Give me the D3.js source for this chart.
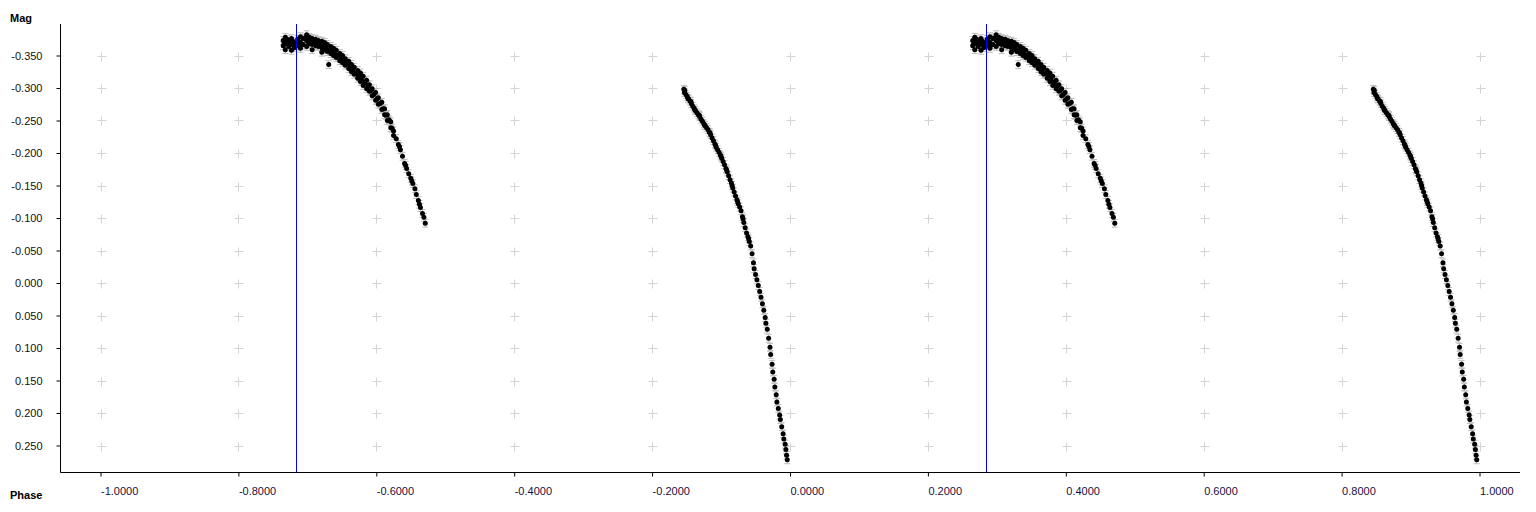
<!DOCTYPE html>
<html><head><meta charset="utf-8">
<script src="https://cdn.jsdelivr.net/npm/d3@7"></script>
<style>
html,body{margin:0;padding:0;background:#fff;}
svg{display:block;}
text{font-family:"Liberation Sans",Arial,sans-serif;}
</style></head>
<body>
<script>
// ---- data ----
const xTicks = [-1.0, -0.8, -0.6, -0.4, -0.2, 0.0, 0.2, 0.4, 0.6, 0.8, 1.0];
const yTicks = [-0.35, -0.30, -0.25, -0.20, -0.15, -0.10, -0.05, 0.00, 0.05, 0.10, 0.15, 0.20, 0.25];
const markerPhases = [-0.716, 0.284];
const errMag = 0.006;
// observed points (phase, magnitude) -- first branch (max light)
const branchA = [
[0.265,-0.373],[0.265,-0.365],[0.268,-0.378],[0.268,-0.368],[0.268,-0.359],[0.273,-0.372],[0.273,-0.364],
[0.277,-0.376],[0.277,-0.367],[0.277,-0.358],[0.281,-0.370],[0.281,-0.362],[0.286,-0.375],[0.286,-0.365],
[0.290,-0.379],[0.290,-0.370],[0.290,-0.361],[0.294,-0.376],[0.294,-0.367],[0.299,-0.382],[0.299,-0.373],
[0.299,-0.364],[0.303,-0.378],[0.303,-0.368],[0.307,-0.376],[0.307,-0.367],[0.307,-0.359],[0.312,-0.375],
[0.312,-0.365],[0.316,-0.373],[0.316,-0.364],[0.321,-0.372],[0.321,-0.362],[0.321,-0.355],[0.325,-0.370],
[0.325,-0.359],[0.329,-0.367],[0.329,-0.356],[0.331,-0.336],[0.334,-0.364],[0.334,-0.353],[0.338,-0.361],
[0.338,-0.350],[0.342,-0.358],[0.342,-0.347],[0.347,-0.353],[0.347,-0.342],[0.351,-0.350],[0.351,-0.339],
[0.355,-0.345],[0.355,-0.335],[0.360,-0.341],[0.360,-0.330],[0.364,-0.336],[0.364,-0.325],[0.368,-0.332],
[0.368,-0.321],[0.373,-0.327],[0.373,-0.315],[0.377,-0.323],[0.377,-0.310],[0.381,-0.318],[0.381,-0.304],
[0.386,-0.312],[0.386,-0.299],[0.390,-0.305],[0.390,-0.295],[0.394,-0.299],[0.394,-0.288],[0.399,-0.293],
[0.399,-0.281],[0.403,-0.285],[0.403,-0.275],[0.408,-0.278],[0.408,-0.267],[0.412,-0.268],[0.412,-0.259],
[0.416,-0.259],[0.416,-0.250],[0.421,-0.248],[0.421,-0.239],[0.425,-0.234],[0.425,-0.227],[0.429,-0.222],
[0.432,-0.213],[0.435,-0.205],[0.438,-0.195],[0.441,-0.184],[0.444,-0.176],[0.447,-0.168],[0.450,-0.161],
[0.453,-0.153],[0.456,-0.145],[0.458,-0.136],[0.461,-0.127],[0.464,-0.116],[0.467,-0.107],[0.469,-0.101],
[0.471,-0.092],
[0.2665,-0.369],[0.2705,-0.375],[0.2745,-0.368],[0.279,-0.372],[0.2835,-0.366],[0.288,-0.371],[0.292,-0.366],
[0.2965,-0.377],[0.301,-0.371],[0.305,-0.373],[0.3095,-0.370],[0.314,-0.368],[0.3185,-0.367],[0.323,-0.364],
[0.327,-0.362],[0.3315,-0.359],[0.336,-0.356],[0.340,-0.352],[0.3445,-0.350],[0.349,-0.346],[0.353,-0.343],
[0.3575,-0.338],[0.362,-0.333],[0.366,-0.327],[0.3705,-0.322],[0.375,-0.318],[0.379,-0.312],[0.3835,-0.308],
[0.388,-0.303],[0.392,-0.296],[0.3965,-0.290],[0.401,-0.283],[0.4055,-0.276],[0.410,-0.268],[0.414,-0.258],
[0.4185,-0.251],[0.423,-0.238],[0.4335,-0.210],[0.4425,-0.181],[0.4515,-0.157],[0.4625,-0.121]
];
// second branch (descending to minimum)
const branchB = [
[0.846,-0.298],[0.847,-0.293],[0.849,-0.290],[0.851,-0.287],[0.853,-0.283],[0.855,-0.280],[0.857,-0.276],
[0.859,-0.272],[0.861,-0.269],[0.863,-0.265],[0.865,-0.262],[0.867,-0.259],[0.869,-0.256],[0.871,-0.252],
[0.873,-0.249],[0.875,-0.245],[0.877,-0.242],[0.879,-0.239],[0.881,-0.236],[0.883,-0.232],[0.885,-0.228],
[0.887,-0.223],[0.889,-0.219],[0.891,-0.214],[0.893,-0.209],[0.895,-0.205],[0.897,-0.201],[0.899,-0.197],
[0.901,-0.192],[0.903,-0.187],[0.905,-0.182],[0.907,-0.176],[0.909,-0.171],[0.911,-0.165],[0.913,-0.159],
[0.915,-0.154],[0.917,-0.146],[0.919,-0.140],[0.921,-0.134],[0.923,-0.128],[0.925,-0.122],[0.927,-0.117],
[0.929,-0.111],[0.931,-0.102],[0.933,-0.093],[0.935,-0.085],[0.937,-0.077],[0.939,-0.071],[0.941,-0.064],
[0.943,-0.057],[0.945,-0.045],[0.947,-0.031],[0.948,-0.022],[0.950,-0.013],[0.952,-0.005],[0.954,0.004],
[0.956,0.013],[0.958,0.022],[0.960,0.032],[0.962,0.042],[0.964,0.053],[0.965,0.062],[0.967,0.071],
[0.969,0.085],[0.971,0.099],[0.972,0.110],[0.974,0.125],[0.975,0.137],[0.977,0.148],[0.978,0.160],
[0.980,0.172],[0.981,0.183],[0.983,0.193],[0.985,0.203],[0.986,0.210],[0.988,0.221],[0.990,0.232],
[0.991,0.240],[0.993,0.248],[0.994,0.256],[0.995,0.265],[0.996,0.272],
[0.8475,-0.296],[0.852,-0.284],[0.8565,-0.279],[0.862,-0.266],[0.8685,-0.258],[0.876,-0.243],[0.884,-0.231],
[0.892,-0.212],[0.900,-0.195],[0.908,-0.174],[0.916,-0.150],[0.924,-0.125],[0.932,-0.099],[0.940,-0.068]
];

// ---- layout ----
const W = 1536, H = 512;
const frame = {left: 60.5, right: 1520, top: 24, bottom: 472.5};
const x = d3.scaleLinear().domain([-1, 1]).range([100.5, 1479.5]);
const y = d3.scaleLinear().domain([-0.35, 0.25]).range([55.5, 445.5]);

const svg = d3.select("body").append("svg").attr("width", W).attr("height", H);

// grid crosses
const grid = svg.append("g").attr("stroke", "#d4d4d4").attr("stroke-width", 1);
xTicks.forEach(tx => yTicks.forEach(ty => {
  const cx = Math.round(x(tx)) + 0.5, cy = Math.round(y(ty)) + 0.5;
  grid.append("line").attr("x1", cx - 4).attr("x2", cx + 5).attr("y1", cy).attr("y2", cy);
  grid.append("line").attr("x1", cx).attr("x2", cx).attr("y1", cy - 4).attr("y2", cy + 5);
}));

// axes
const yAxis = d3.axisLeft(y).tickValues(yTicks).tickSize(4).tickPadding(14).tickFormat(d => d.toFixed(3));
const gy = svg.append("g").attr("transform", `translate(${frame.left},0)`).call(yAxis);
gy.select(".domain").remove();
gy.selectAll(".tick line").attr("stroke", "#000");
gy.selectAll(".tick text").attr("font-size", 11).attr("fill", "#111").attr("font-family", "Liberation Sans, Arial, sans-serif");

const xAxis = d3.axisBottom(x).tickValues(xTicks).tickSize(4).tickFormat(d => d.toFixed(4));
const gx = svg.append("g").attr("transform", `translate(0,${frame.bottom})`).call(xAxis);
gx.select(".domain").remove();
gx.selectAll(".tick line").attr("stroke", "#000");
gx.selectAll(".tick text").attr("font-size", 11).attr("fill", "#1a1040")
  .attr("text-anchor", "start").attr("x", 0).attr("y", 19).attr("dy", "0.32em")
  .attr("font-family", "Liberation Sans, Arial, sans-serif");

svg.append("line").attr("x1", frame.left).attr("x2", frame.left).attr("y1", frame.top).attr("y2", frame.bottom).attr("stroke", "#000");
svg.append("line").attr("x1", frame.left).attr("x2", frame.right).attr("y1", frame.bottom).attr("y2", frame.bottom).attr("stroke", "#000");

svg.append("text").attr("x", 10).attr("y", 22).attr("font-size", 11).attr("font-weight", "bold").attr("fill", "#000").text("Mag");
svg.append("text").attr("x", 10).attr("y", 499).attr("font-size", 11).attr("font-weight", "bold").attr("fill", "#000").text("Phase");

// data: folded light curve shown twice (phase and phase-1)
const base = branchA.concat(branchB);
const pts = base.map(d => [d[0] - 1, d[1]]).concat(base);

const eb = svg.append("g").attr("stroke", "#bdbdbd").attr("stroke-width", 1);
pts.forEach(d => {
  const px = x(d[0]), y1 = y(d[1] - errMag), y2 = y(d[1] + errMag);
  eb.append("line").attr("x1", px).attr("x2", px).attr("y1", y1).attr("y2", y2);
  eb.append("line").attr("x1", px - 3).attr("x2", px + 3).attr("y1", y1).attr("y2", y1);
  eb.append("line").attr("x1", px - 3).attr("x2", px + 3).attr("y1", y2).attr("y2", y2);
});

svg.append("g").selectAll("circle").data(pts).join("circle")
  .attr("cx", d => x(d[0])).attr("cy", d => y(d[1])).attr("r", 2.5).attr("fill", "#000");

// marker lines
svg.append("g").selectAll("line").data(markerPhases).join("line")
  .attr("x1", d => Math.round(x(d)) + 0.5).attr("x2", d => Math.round(x(d)) + 0.5)
  .attr("y1", frame.top).attr("y2", frame.bottom)
  .attr("stroke", "#0000ff").attr("stroke-width", 1);
</script>
</body></html>
